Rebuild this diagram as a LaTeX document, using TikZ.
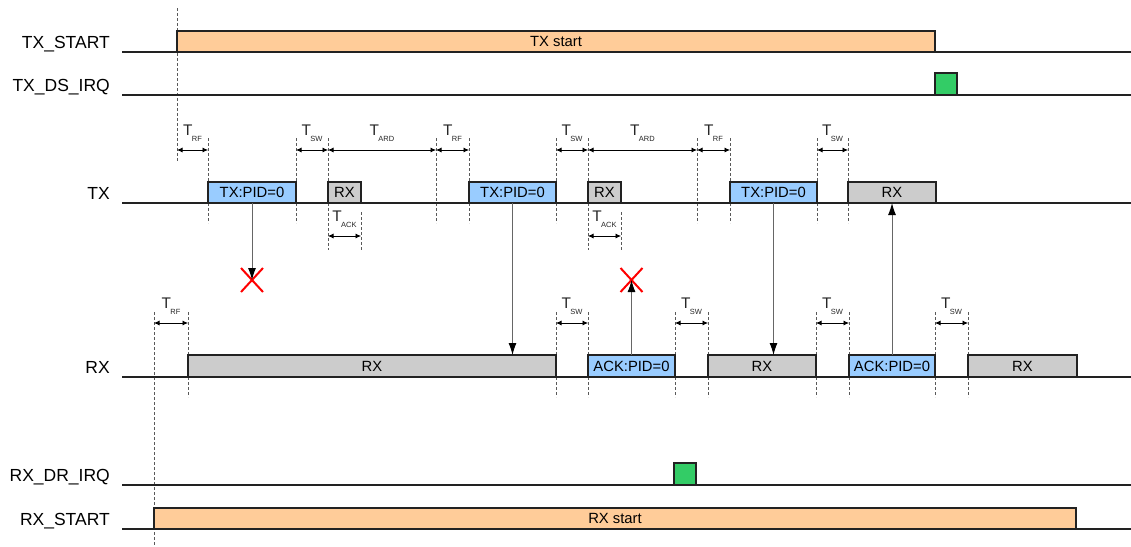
\documentclass[tikz,border=0pt]{standalone}
\usepackage{fontspec}
\setmainfont{Liberation Sans}
\usetikzlibrary{arrows.meta,shapes.misc}
\definecolor{orangeC}{HTML}{FFCC99}
\definecolor{blueC}{HTML}{99CCFF}
\definecolor{grayC}{HTML}{CCCCCC}
\definecolor{greenC}{HTML}{33CC66}
\definecolor{lineC}{HTML}{222222}
\newcommand\Tlab[1]{T\kern-0.6pt\raisebox{-6.5pt}{\fontsize{7.5}{7.5}\selectfont #1}}
\newcommand\dimline[5]{%
  \draw[dimarrow] (#1,#3) -- (#2,#3);
  \node[tl] (#5) at ({(#1+#2)/2},{#3-15}) {\Tlab{#4}};}
\tikzset{
  sigline/.style={line width=1.3pt, draw=lineC},
  pulse/.style={draw=lineC, line width=1.1pt, inner sep=0pt, outer sep=0pt,
    anchor=south west, font=\fontsize{14.8}{16}\selectfont},
  txbox/.style={pulse, fill=blueC},
  rxbox/.style={pulse, fill=grayC},
  startbox/.style={pulse, fill=orangeC},
  irqbox/.style={pulse, fill=greenC, minimum width=22pt, minimum height=22pt},
  rowlabel/.style={anchor=base east, inner sep=0pt, font=\fontsize{17.5}{19}\selectfont},
  guide/.style={draw=black!65, line width=0.7pt, dash pattern=on 3pt off 2pt},
  dimarrow/.style={draw=black, line width=0.7pt, {Latex[length=5.5pt,width=5pt]}-{Latex[length=5.5pt,width=5pt]}},
  tl/.style={anchor=base, inner sep=0pt, font=\fontsize{15.4}{16}\selectfont, text=black!85},
  msg/.style={draw=black!60, line width=1pt, -{Latex[length=12pt,width=8pt,color=black]}},
  lost/.style={cross out, draw=red, line width=2pt, minimum width=20pt, minimum height=22pt, inner sep=0pt},
}
\begin{document}
\begin{tikzpicture}[x=1pt,y=-1pt]
\useasboundingbox (0,0) rectangle (1131,546);

% row labels
\node[rowlabel] (lTXS) at (110,48) {TX\_START};
\node[rowlabel] (lTXI) at (110,91) {TX\_DS\_IRQ};
\node[rowlabel] (lTX)  at (110,199) {TX};
\node[rowlabel] (lRX)  at (110,373) {RX};
\node[rowlabel] (lRXI) at (110,481) {RX\_DR\_IRQ};
\node[rowlabel] (lRXS) at (110,525) {RX\_START};

% guide lines (dashed)
\draw[guide] (177,8) -- (177,161);
\draw[guide] (154,312) -- (154,546);
\foreach \gx in {208,296,436,469,556,697,730,817,848}
  \draw[guide] (\gx,138) -- (\gx,223);
\foreach \gx in {328,588}
  \draw[guide] (\gx,138) -- (\gx,250);
\foreach \gx in {361,621}
  \draw[guide] (\gx,212) -- (\gx,250);
\foreach \gx in {188,556,588,675,708,816,849,935,968}
  \draw[guide] (\gx,312) -- (\gx,397);

% pulses
\node[startbox, minimum width=758pt, minimum height=21pt] (txs) at (177,52) {TX start};
\node[irqbox] (txirq) at (935,95) {};
\node[txbox, minimum width=88pt, minimum height=21pt] (tx1) at (208,203) {TX:PID=0};
\node[rxbox, minimum width=33pt, minimum height=21pt] (rxw1) at (328,203) {RX};
\node[txbox, minimum width=87pt, minimum height=21pt] (tx2) at (469,203) {TX:PID=0};
\node[rxbox, minimum width=33pt, minimum height=21pt] (rxw2) at (588,203) {RX};
\node[txbox, minimum width=87pt, minimum height=21pt] (tx3) at (730,203) {TX:PID=0};
\node[rxbox, minimum width=88pt, minimum height=21pt] (rxw3) at (848,203) {RX};

\node[rxbox, minimum width=368pt, minimum height=22pt] (rxa) at (188,377) {RX};
\node[txbox, minimum width=87pt, minimum height=22pt] (ack1) at (588,377) {ACK:PID=0};
\node[rxbox, minimum width=108pt, minimum height=22pt] (rxb) at (708,377) {RX};
\node[txbox, minimum width=86pt, minimum height=22pt] (ack2) at (849,377) {ACK:PID=0};
\node[rxbox, minimum width=109pt, minimum height=22pt] (rxc) at (968,377) {RX};

\node[irqbox] (rxirq) at (674,485) {};
\node[startbox, minimum width=922pt, minimum height=21pt] (rxs) at (154,529) {RX start};

% signal baselines
\draw[sigline] (122,52) -- (1131,52);
\draw[sigline] (122,95) -- (1131,95);
\draw[sigline] (122,203) -- (1131,203);
\draw[sigline] (122,377) -- (1131,377);
\draw[sigline] (122,485) -- (1131,485);
\draw[sigline] (122,529) -- (1131,529);

% timing dimensions
\dimline{177}{208}{150}{RF}{d1}
\dimline{296}{328}{150}{SW}{d2}
\dimline{328}{436}{150}{ARD}{d3}
\dimline{436}{469}{150}{RF}{d4}
\dimline{556}{588}{150}{SW}{d5}
\dimline{588}{697}{150}{ARD}{d6}
\dimline{697}{730}{150}{RF}{d7}
\dimline{817}{848}{150}{SW}{d8}
\dimline{328}{361}{236}{ACK}{d9}
\dimline{588}{621}{236}{ACK}{d10}
\dimline{154}{188}{323}{RF}{d11}
\dimline{556}{588}{323}{SW}{d12}
\dimline{675}{708}{323}{SW}{d13}
\dimline{816}{849}{323}{SW}{d14}
\dimline{935}{968}{323}{SW}{d15}

% lost packets
\node[lost] (lost1) at (252,280) {};
\node[lost] (lost2) at (631.5,280) {};

% messages
\draw[msg] (tx1.south) -- (lost1.center);
\draw[msg] (tx2.south) -- (tx2.south |- rxa.north);
\draw[msg] (ack1.north) -- (lost2.center);
\draw[msg] (tx3.south) -- (tx3.south |- rxb.north);
\draw[msg] (ack2.north) -- (rxw3.south);
\end{tikzpicture}
\end{document}
